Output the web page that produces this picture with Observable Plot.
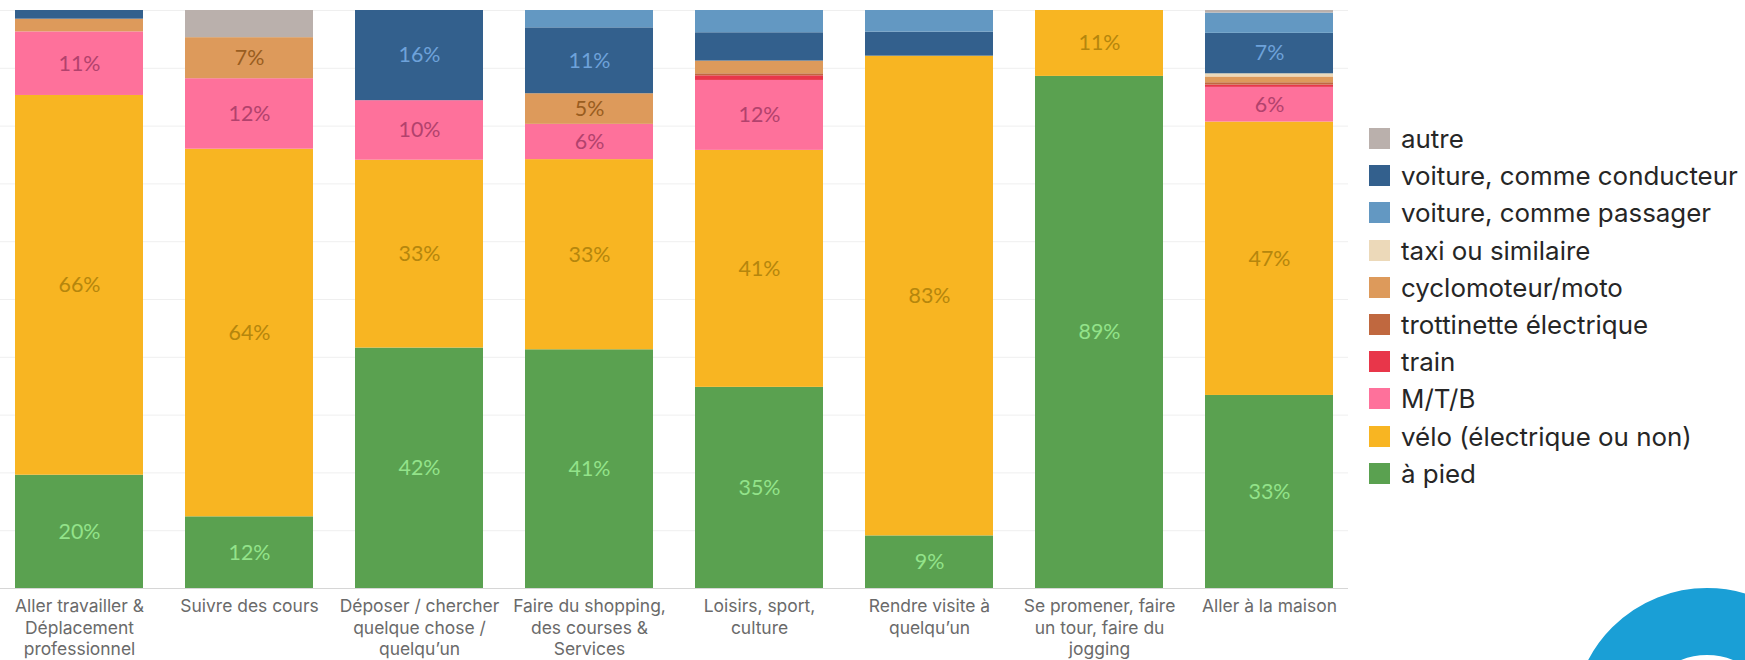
<!DOCTYPE html>
<html>
<head>
<meta charset="utf-8">
<script src="https://cdn.jsdelivr.net/npm/d3@7"></script>
<script src="https://cdn.jsdelivr.net/npm/@observablehq/plot@0.6"></script>
<style>
  html, body { margin: 0; padding: 0; background: #fff; overflow: hidden; }
  #wrap { position: relative; width: 1745px; height: 660px; }
  #chart { position: absolute; left: 0; top: 0; }
  #legend { position: absolute; left: 1369px; top: 128px; font-family: Inter, "Open Sans", sans-serif; color: #262626; }
  #legend .row { height: 37.2px; display: flex; align-items: flex-start; }
  #legend .sw { width: 21px; height: 21px; margin-right: 11px; flex: none; }
  #legend .lb { line-height: 21px; white-space: nowrap; }
  #ring { position: absolute; left: 1573px; top: 588px; width: 268px; height: 268px; box-sizing: border-box;
          border: 67px solid #1a9fd6; border-radius: 50%; }
</style>
</head>
<body>
<div id="wrap">
  <div id="chart"></div>
  <div id="legend"></div>
  <div id="ring"></div>
</div>
<script>
// Categories (x axis), with line breaks as in the reference
const categories = [
  "Aller travailler &\nDéplacement\nprofessionnel",
  "Suivre des cours",
  "Déposer / chercher\nquelque chose /\nquelqu’un",
  "Faire du shopping,\ndes courses &\nServices",
  "Loisirs, sport,\nculture",
  "Rendre visite à\nquelqu’un",
  "Se promener, faire\nun tour, faire du\njogging",
  "Aller à la maison"
];

// Stack order, bottom to top
const modes = [
  "à pied",
  "vélo (électrique ou non)",
  "M/T/B",
  "train",
  "trottinette électrique",
  "cyclomoteur/moto",
  "taxi ou similaire",
  "voiture, comme conducteur",
  "voiture, comme passager",
  "autre"
];

// Legend order, top to bottom
const legendOrder = [
  "autre",
  "voiture, comme conducteur",
  "voiture, comme passager",
  "taxi ou similaire",
  "cyclomoteur/moto",
  "trottinette électrique",
  "train",
  "M/T/B",
  "vélo (électrique ou non)",
  "à pied"
];

// Shares (%) per mode, one value per category
const aPied       = [19.6, 12.4, 41.6, 41.3, 34.8,  9.1, 88.6, 33.4];
const velo        = [65.7, 63.6, 32.5, 32.9, 41.0, 83.0, 11.4, 47.3];
const mtb         = [11.0, 12.2, 10.3,  6.1, 12.1,  0,    0,    6.0];
const train       = [ 0,    0,    0,    0,    0.8,  0,    0,    0.4];
const trottinette = [ 0,    0,    0,    0,    0.35, 0,    0,    0.4];
const cyclomoteur = [ 2.2,  7.1,  0,    5.3,  2.2,  0,    0,    1.0];
const taxi        = [ 0,    0,    0,    0,    0,    0,    0,    0.55];
const conducteur  = [ 1.5,  0,   15.6, 11.4,  4.9,  4.15, 0,    7.0];
const passager    = [ 0,    0,    0,    3.0,  3.85, 3.75, 0,    3.5];
const autre       = [ 0,    4.7,  0,    0,    0,    0,    0,    0.45];

const seriesByMode = {
  "à pied": aPied,
  "vélo (électrique ou non)": velo,
  "M/T/B": mtb,
  "train": train,
  "trottinette électrique": trottinette,
  "cyclomoteur/moto": cyclomoteur,
  "taxi ou similaire": taxi,
  "voiture, comme conducteur": conducteur,
  "voiture, comme passager": passager,
  "autre": autre
};

const colors = {
  "à pied": "#5aa150",
  "vélo (électrique ou non)": "#f8b522",
  "M/T/B": "#fe719b",
  "train": "#e8364a",
  "trottinette électrique": "#c0683f",
  "cyclomoteur/moto": "#dd9a5b",
  "taxi ou similaire": "#ecd9b9",
  "voiture, comme conducteur": "#33608d",
  "voiture, comme passager": "#6398c2",
  "autre": "#bab0ac"
};

const labelColors = {
  "à pied": "#93e38a",
  "vélo (électrique ou non)": "#b5860d",
  "M/T/B": "#b2426d",
  "cyclomoteur/moto": "#995d20",
  "voiture, comme conducteur": "#6ea2da",
  "voiture, comme passager": "#3a6d9a"
};

// font sizing helper: pick a size so that a sample text has the reference's width
const ctx = document.createElement("canvas").getContext("2d");
function fit(text, family, target) {
  ctx.font = `100px ${family}`;
  return 100 * target / ctx.measureText(text).width;
}
const axisFont = "Inter, 'Open Sans', sans-serif";
const labelFont = "Lato, 'Open Sans', sans-serif";
const legendFont = "Inter, 'Open Sans', sans-serif";
const axisSize = fit("Aller travailler &", axisFont, 129);
const labelSize = fit("66%", labelFont, 42);
const legendSize = fit("voiture, comme conducteur", legendFont, 337);

const rows = [];
for (const m of modes) {
  seriesByMode[m].forEach((v, i) => {
    if (v > 0) rows.push({cat: categories[i], mode: m, v});
  });
}

const labelMarks = modes.filter(m => labelColors[m]).map(m =>
  Plot.text(rows, Plot.stackY({
    x: "cat", y: "v", z: "mode", order: modes,
    text: d => (d.mode === m && d.v >= 5) ? Math.round(d.v) + "%" : null,
    fill: labelColors[m],
    fontSize: labelSize,
    fontFamily: labelFont
  }))
);

const chart = Plot.plot({
  width: 1350,
  height: 660,
  marginTop: 10,
  marginBottom: 72,
  marginLeft: 0,
  marginRight: 2,
  style: {background: "transparent"},
  x: {domain: categories, paddingInner: 0.25, paddingOuter: 0.07, label: null},
  y: {domain: [0, 100], axis: null},
  color: {domain: modes, range: modes.map(m => colors[m])},
  marks: [
    Plot.gridY({ticks: 10, stroke: "#efefef", strokeOpacity: 1}),
    Plot.barY(rows, Plot.stackY({x: "cat", y: "v", z: "mode", order: modes, fill: "mode"})),
    ...labelMarks,
    Plot.ruleY([0], {stroke: "#d6d6d6"}),
    Plot.axisX({tickSize: 0, tickPadding: 8, fontSize: axisSize, fill: "#6a6a6a", lineHeight: 21.7 / axisSize,
                fontFamily: axisFont, label: null})
  ]
});
document.getElementById("chart").appendChild(chart);

const legend = document.getElementById("legend");
legend.style.fontSize = legendSize + "px";
for (const m of legendOrder) {
  const row = document.createElement("div");
  row.className = "row";
  const sw = document.createElement("div");
  sw.className = "sw";
  sw.style.background = colors[m];
  const lb = document.createElement("div");
  lb.className = "lb";
  lb.textContent = m;
  row.appendChild(sw);
  row.appendChild(lb);
  legend.appendChild(row);
}
</script>
</body>
</html>
